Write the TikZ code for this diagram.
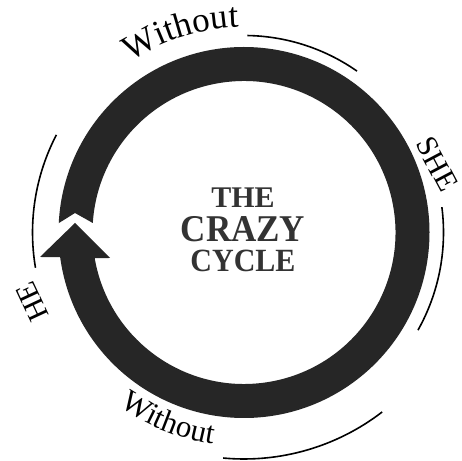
\documentclass[tikz,border=0pt]{standalone}
\usepackage{fontspec}
\setmainfont{Liberation Serif}
\usetikzlibrary{decorations.text}
\definecolor{ringc}{HTML}{262626}
\definecolor{txtc}{HTML}{333333}
\begin{document}
\begin{tikzpicture}[x=1pt,y=1pt,
  ring/.style={fill=ringc},
  deco/.style={draw=black, line width=1.6pt},
  side/.style={font=\fontsize{30}{30}\selectfont, inner sep=0pt},
  title/.style={font=\bfseries\fontsize{30}{30}\selectfont, text=txtc, anchor=base, inner sep=0pt}]
\useasboundingbox (0,0) rectangle (462,460);
\fill[white] (0,0) rectangle (462,460);
\coordinate (C) at (244,227.5);
\coordinate (baseOut) at (40,203);
\coordinate (tip) at (75,237);
\coordinate (baseIn) at (110,202);
\coordinate (notch) at (75,247);
% ring arrow
\fill[ring] ([shift={(177.1:185.5)}]C) arc[start angle=177.1,end angle=-172.4,radius=185.5]
  -- (baseOut) -- (tip) -- (baseIn)
  -- ([shift={(-170.3:151.5)}]C) arc[start angle=-170.3,end angle=176.4,radius=151.5]
  -- (notch) -- cycle;
% thin arcs
\draw[deco] ([shift={(89:197)}]C) arc[start angle=89,end angle=55,radius=197];
\draw[deco] ([shift={(7.3:199.5)}]C) arc[start angle=7.3,end angle=-29.3,radius=199.5];
\draw[deco] ([shift={(152.5:211.5)}]C) arc[start angle=152.5,end angle=189.6,radius=211.5];
\draw[deco] ([shift={(-52.4:226.5)}]C) arc[start angle=-52.4,end angle=-95.3,radius=226.5];
% curved labels
\path[decorate, decoration={text along path, text={|\fontsize{35}{35}\selectfont|Without}, text align=center}]
  ([shift={(140:205)}]C) arc[start angle=140,end angle=75,radius=205];
\path[decorate, decoration={text along path, text={|\fontsize{31}{31}\selectfont|Without}, text align=center}]
  ([shift={(214:214)}]C) arc[start angle=214,end angle=282,radius=214];
\node[side, rotate=-62] (she) at (437,296) {SHE};
\node[side, rotate=115] (he) at (32,158) {HE};
% title
\node[title] (the) at (243,252) {THE};
\node[title] (crazy) at (243,218) {\scalebox{1}[1.08]{\fontsize{35}{35}\selectfont CRAZY}};
\node[title] (cycle) at (243,188) {\scalebox{1}[1.08]{CYCLE}};
\end{tikzpicture}
\end{document}
